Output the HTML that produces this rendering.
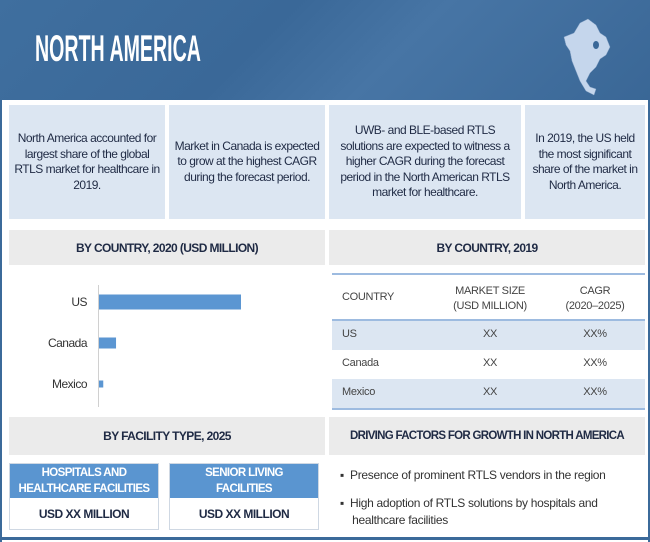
<!DOCTYPE html>
<html><head><meta charset="utf-8"><style>
*{margin:0;padding:0;box-sizing:border-box}
body{width:650px;height:542px;background:#fff;position:relative;overflow:hidden;font-family:"Liberation Sans",sans-serif;color:#1f2a44}
.a{position:absolute}
.hdr{left:0;top:0;width:650px;height:100px;background:linear-gradient(135deg,#3f6f9f 0%,#3a6898 40%,#4775a5 60%,#3a6796 100%)}
.title{left:35px;top:28px;color:#fff;font-size:37px;font-weight:bold;transform:scaleX(0.53);transform-origin:left top;white-space:nowrap;line-height:42px}
.info{background:#dce6f2;top:105px;height:114px;display:flex;align-items:center;justify-content:center;text-align:center;font-size:12px;line-height:15.5px;letter-spacing:-0.5px;color:#1f2a44;padding:0 3px}
.gh{background:#ebebeb;display:flex;align-items:center;justify-content:center;font-size:12px;font-weight:bold;letter-spacing:-0.6px;color:#1f2a44;white-space:nowrap}
.tc{font-size:11px;color:#444;text-align:center;letter-spacing:-0.3px}
.row{left:332px;width:313px;height:29px}
.fb{background:#fff;border:1px solid #cfd8e3}
.fh{background:#5a95d0;color:#fff;font-weight:bold;font-size:11.5px;letter-spacing:-0.6px;text-align:center;line-height:16px;display:flex;align-items:center;justify-content:center}
.fv{font-weight:bold;font-size:12px;letter-spacing:-0.5px;text-align:center}
.bul{font-size:12px;color:#333;line-height:17px;letter-spacing:-0.3px}
</style></head><body>
<div class="a" style="left:0;top:0;width:650px;height:542px;border-left:2px solid #3b6a9a;border-right:2px solid #3b6a9a"></div>
<div class="a hdr"></div>
<div class="a title">NORTH AMERICA</div>
<svg class="a" style="left:560px;top:15px" width="60" height="85">
<path d="M4 22 L14 18 L20 8 L28 4 L36 10 L40 18 L46 22 L50 32 L46 40 L40 44 L36 52 L30 58 L26 66 L30 72 L36 74 L34 80 L26 76 L20 66 L16 56 L12 46 L10 36 L6 30 Z" fill="#c5d6ec" stroke="#8aa6c8" stroke-width="0.5"/>
<ellipse cx="36" cy="30" rx="3" ry="4" fill="#3a6898"/>
</svg>
<div class="a info" style="left:9px;width:156px">North America accounted for largest share of the global RTLS market for healthcare in 2019.</div>
<div class="a info" style="left:169px;width:156px">Market in Canada is expected to grow at the highest CAGR during the forecast period.</div>
<div class="a info" style="left:329px;width:192px">UWB- and BLE-based RTLS solutions are expected to witness a higher CAGR during the forecast period in the North American RTLS market for healthcare.</div>
<div class="a info" style="left:525px;width:120px">In 2019, the US held the most significant share of the market in North America.</div>

<div class="a gh" style="left:9px;top:230px;width:316px;height:35px">BY COUNTRY, 2020 (USD MILLION)</div>
<div class="a gh" style="left:329px;top:230px;width:316px;height:35px">BY COUNTRY, 2019</div>

<svg id="chart" class="a" style="left:0;top:265px" width="326" height="150"></svg>
<script>
const categories=["US","Canada","Mexico"];
const values=[100,12,3];
(function(){
const svg=document.getElementById('chart');const ns="http://www.w3.org/2000/svg";
const x0=99,xw=142/100,centers=[37,78,119],heights=[15,11,7];
const ax=document.createElementNS(ns,'line');
ax.setAttribute('x1',98.5);ax.setAttribute('x2',98.5);ax.setAttribute('y1',20);ax.setAttribute('y2',142);ax.setAttribute('stroke','#d0d0d0');


svg.appendChild(ax);
categories.forEach((c,i)=>{
 const cy=centers[i],h=heights[i];
 const r=document.createElementNS(ns,'rect');
 r.setAttribute('x',x0);r.setAttribute('y',cy-h/2);r.setAttribute('width',values[i]*xw);r.setAttribute('height',h);r.setAttribute('fill','#5b96d2');
 
 
 svg.appendChild(r);
 const t=document.createElementNS(ns,'text');
 t.setAttribute('x',87);t.setAttribute('y',cy+4);t.setAttribute('text-anchor','end');t.setAttribute('font-size','12');t.setAttribute('fill','#333');t.setAttribute('letter-spacing','-0.5');
 t.setAttribute('font-family','"Liberation Sans",sans-serif');
 t.textContent=c;
 
 
 svg.appendChild(t);
});
})();
</script>

<div class="a" style="left:332px;top:273px;width:313px;height:2px;background:#9dbbe0"></div>
<div class="a tc" style="left:342px;top:291px;text-align:left">COUNTRY</div>
<div class="a tc" style="left:440px;top:284px;width:100px;line-height:15px">MARKET SIZE<br>(USD MILLION)</div>
<div class="a tc" style="left:545px;top:284px;width:100px;line-height:15px">CAGR<br>(2020–2025)</div>
<div class="a" style="left:332px;top:319px;width:313px;height:2px;background:#9dbbe0"></div>
<div class="a row" style="top:321px;background:#dce6f2"></div>
<div class="a row" style="top:379px;background:#dce6f2"></div>
<div class="a" style="left:332px;top:408px;width:313px;height:2px;background:#9dbbe0"></div>
<div class="a tc" style="left:342px;top:328px">US</div>
<div class="a tc" style="left:440px;top:328px;width:100px">XX</div>
<div class="a tc" style="left:545px;top:328px;width:100px">XX%</div>
<div class="a tc" style="left:342px;top:357px">Canada</div>
<div class="a tc" style="left:440px;top:357px;width:100px">XX</div>
<div class="a tc" style="left:545px;top:357px;width:100px">XX%</div>
<div class="a tc" style="left:342px;top:386px">Mexico</div>
<div class="a tc" style="left:440px;top:386px;width:100px">XX</div>
<div class="a tc" style="left:545px;top:386px;width:100px">XX%</div>

<div class="a gh" style="left:9px;top:417px;width:316px;height:38px">BY FACILITY TYPE, 2025</div>
<div class="a gh" style="left:329px;top:417px;width:316px;height:38px;font-size:11.5px;letter-spacing:-0.7px">DRIVING FACTORS FOR GROWTH IN NORTH AMERICA</div>

<div class="a fb" style="left:9px;top:463px;width:150px;height:67px">
<div class="fh" style="height:34px">HOSPITALS AND<br>HEALTHCARE FACILITIES</div>
<div class="fv" style="line-height:32px">USD XX MILLION</div></div>
<div class="a fb" style="left:169px;top:463px;width:150px;height:67px">
<div class="fh" style="height:34px">SENIOR LIVING<br>FACILITIES</div>
<div class="fv" style="line-height:32px">USD XX MILLION</div></div>

<div class="a bul" style="left:340px;top:467px">▪&nbsp; Presence of prominent RTLS vendors in the region</div>
<div class="a bul" style="left:340px;top:495px;width:300px">▪&nbsp; High adoption of RTLS solutions by hospitals and<br>&nbsp;&nbsp;&nbsp;&nbsp;healthcare facilities</div>

<div class="a" style="left:0;top:537px;width:650px;height:3px;background:#3b6a9a"></div>
</body></html>
